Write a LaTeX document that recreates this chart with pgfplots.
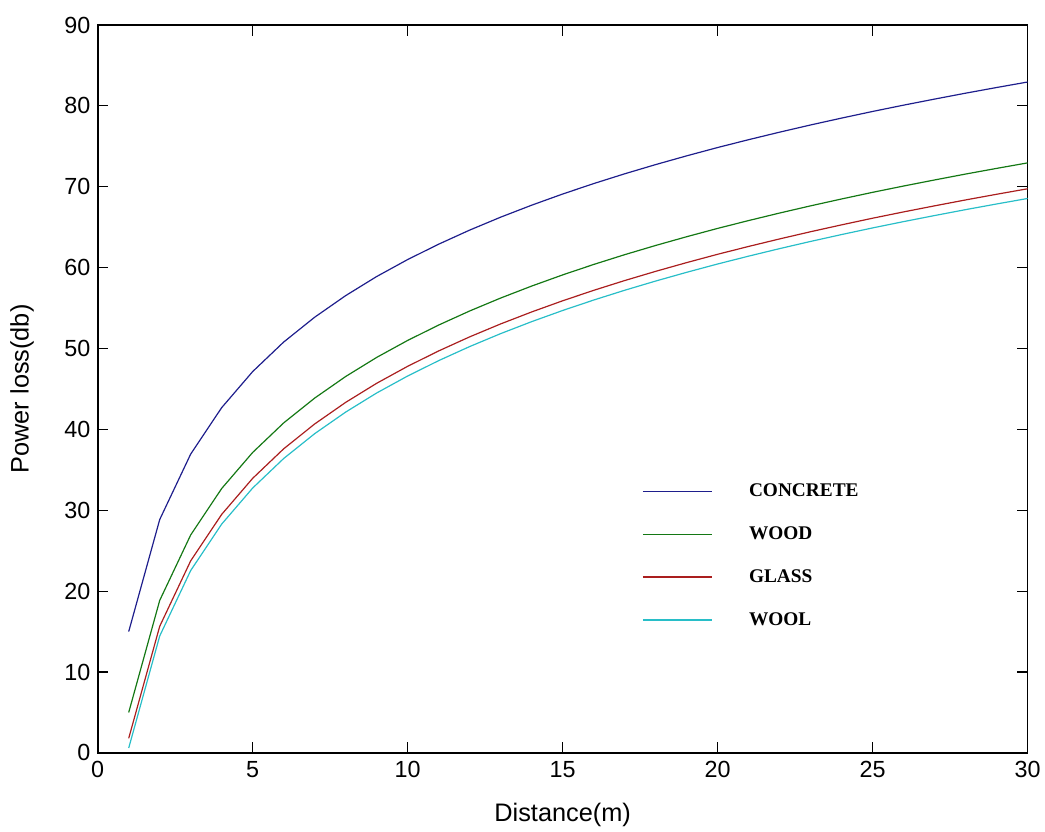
\documentclass[border=0pt]{standalone}
\usepackage{pgfplots}
\pgfplotsset{compat=1.18}
\usepackage{fontspec}
\setmainfont{Liberation Sans}
\newfontfamily\legfont{Liberation Serif}
\definecolor{cconc}{RGB}{30,30,140}
\definecolor{cwood}{RGB}{20,120,20}
\definecolor{cglass}{RGB}{170,30,30}
\definecolor{cwool}{RGB}{40,190,200}
\begin{document}
\begin{tikzpicture}
\begin{axis}[
  at={(0pt,0pt)}, anchor=south west,
  scale only axis, width=697.5pt, height=546pt,
  xmin=0, xmax=30, ymin=0, ymax=90,
  xtick={0,5,...,30}, ytick={0,10,...,90},
  tick align=inside, major tick length=8pt,
  tick style={black, line width=0.9pt},
  axis line style={line width=1.2pt},
  /pgf/number format/assume math mode=true,
  ticklabel style={font=\fontsize{17.5}{20}\selectfont},
  xticklabel style={yshift=-3pt},
  yticklabel style={xshift=-2pt},
  xlabel={Distance(m)}, ylabel={Power loss(db)},
  label style={font=\fontsize{19}{22}\selectfont},
  xlabel style={at={(rel axis cs:0.5,-0.085)}, anchor=center},
  ylabel style={at={(rel axis cs:-0.0814,0.5)}, anchor=center},
  legend style={at={(0.581,0.377)}, anchor=north west, draw=none, fill=none,
    font=\legfont\bfseries\fontsize{14.5}{16}\selectfont, row sep=17pt,
    /tikz/every odd column/.append style={column sep=25pt}},
  legend cell align=left,
  legend image code/.code={\draw[#1, line width=1.1pt] (0pt,0pt) -- (52pt,0pt);},
  every axis plot/.append style={line width=0.9pt},
]
\addplot[cconc] coordinates {(1,15.00)(2,28.85)(3,36.95)(4,42.69)(5,47.15)(6,50.80)(7,53.87)(8,56.54)(9,58.90)(10,61.00)(11,62.90)(12,64.64)(13,66.24)(14,67.72)(15,69.10)(16,70.39)(17,71.60)(18,72.74)(19,73.82)(20,74.85)(21,75.82)(22,76.75)(23,77.64)(24,78.49)(25,79.31)(26,80.09)(27,80.84)(28,81.57)(29,82.27)(30,82.95)};
\addlegendentry{CONCRETE}
\addplot[cwood] coordinates {(1,5.00)(2,18.85)(3,26.95)(4,32.69)(5,37.15)(6,40.80)(7,43.87)(8,46.54)(9,48.90)(10,51.00)(11,52.90)(12,54.64)(13,56.24)(14,57.72)(15,59.10)(16,60.39)(17,61.60)(18,62.74)(19,63.82)(20,64.85)(21,65.82)(22,66.75)(23,67.64)(24,68.49)(25,69.31)(26,70.09)(27,70.84)(28,71.57)(29,72.27)(30,72.95)};
\addlegendentry{WOOD}
\addplot[cglass] coordinates {(1,1.80)(2,15.65)(3,23.75)(4,29.49)(5,33.95)(6,37.60)(7,40.67)(8,43.34)(9,45.70)(10,47.80)(11,49.70)(12,51.44)(13,53.04)(14,54.52)(15,55.90)(16,57.19)(17,58.40)(18,59.54)(19,60.62)(20,61.65)(21,62.62)(22,63.55)(23,64.44)(24,65.29)(25,66.11)(26,66.89)(27,67.64)(28,68.37)(29,69.07)(30,69.75)};
\addlegendentry{GLASS}
\addplot[cwool] coordinates {(1,0.60)(2,14.45)(3,22.55)(4,28.29)(5,32.75)(6,36.40)(7,39.47)(8,42.14)(9,44.50)(10,46.60)(11,48.50)(12,50.24)(13,51.84)(14,53.32)(15,54.70)(16,55.99)(17,57.20)(18,58.34)(19,59.42)(20,60.45)(21,61.42)(22,62.35)(23,63.24)(24,64.09)(25,64.91)(26,65.69)(27,66.44)(28,67.17)(29,67.87)(30,68.55)};
\addlegendentry{WOOL}
\end{axis}
\path[use as bounding box] (-73.3pt,-57pt) rectangle (710.5pt,564.75pt);
\end{tikzpicture}
\end{document}
